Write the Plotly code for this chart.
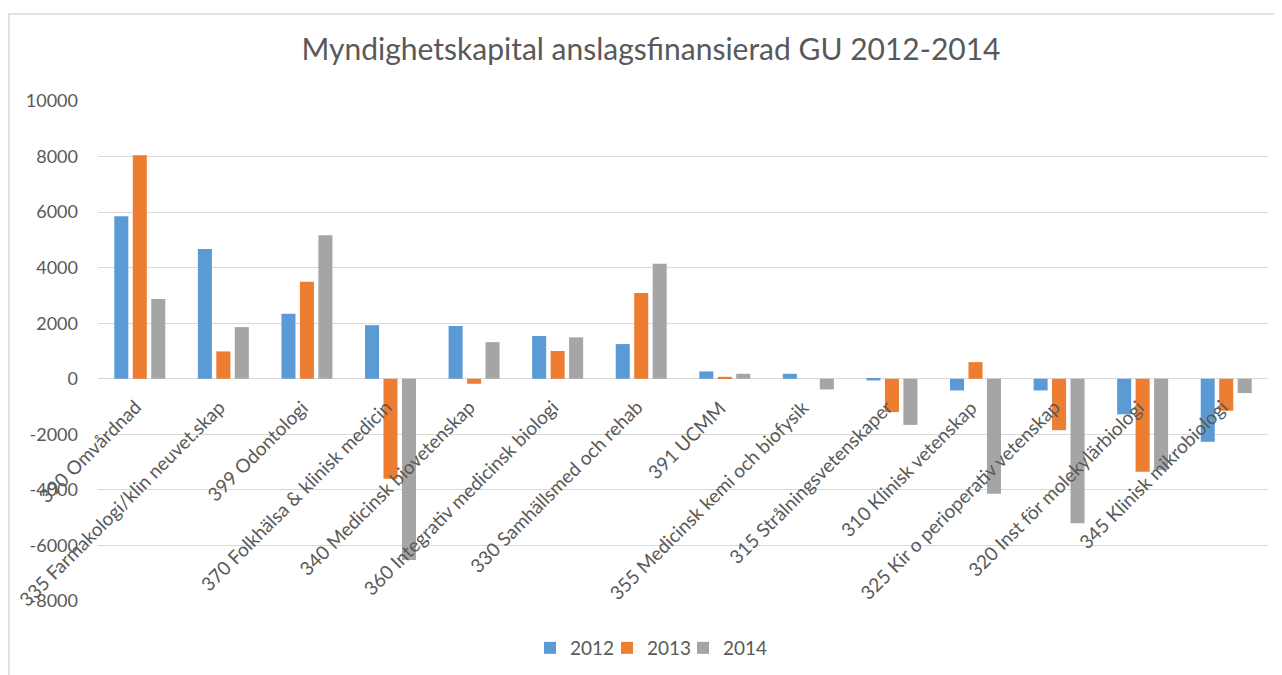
import plotly.graph_objects as go

categories = [
    "390 Omvårdnad",
    "335 Farmakologi/klin neuvet.skap",
    "399 Odontologi",
    "370 Folkhälsa & klinisk medicin",
    "340 Medicinsk biovetenskap",
    "360 Integrativ medicinsk biologi",
    "330 Samhällsmed och rehab",
    "391 UCMM",
    "355 Medicinsk kemi och biofysik",
    "315 Strålningsvetenskaper",
    "310 Klinisk vetenskap",
    "325 Kir o perioperativ vetenskap",
    "320 Inst för molekylärbiologi",
    "345 Klinisk mikrobiologi",
]
v2012 = [5850, 4670, 2340, 1930, 1900, 1540, 1250, 265, 180, -60, -420, -420, -1280, -2270]
v2013 = [8050, 985, 3490, -3600, -180, 1000, 3090, 70, 0, -1200, 600, -1850, -3350, -1150]
v2014 = [2870, 1860, 5170, -6520, 1320, 1490, 4140, 180, -385, -1660, -4140, -5200, -3280, -515]
years = ["2012", "2013", "2014"]
y_ticks = [-8000, -6000, -4000, -2000, 0, 2000, 4000, 6000, 8000, 10000]
y_ticktext = [str(v) for v in y_ticks]

colors = ["#5B9BD5", "#ED7D31", "#A5A5A5"]
FONT = "Lato"
TXT = "#595959"

# page body has an 8px margin: figure coords = screen coords - 8
OFF = 8
W, H = 1282, 675
L, T = 98 - OFF, 101 - OFF
R, B = W - (1268 - OFF), H - (601 - OFF)
pw, ph = W - L - R, H - T - B

legend_ids = ["legend2", "legend3", "legend4"]
legend_left_screen = [530, 607, 683]

fig = go.Figure()
for name, vals, c, lid in zip(years, [v2012, v2013, v2014], colors, legend_ids):
    fig.add_trace(go.Bar(x=categories, y=vals, name=name, marker_color=c,
                         marker_line_width=0, legend=lid, showlegend=True))

annotations = []
for c in categories:
    annotations.append(dict(
        x=c, y=0, xref="x", yref="y", text=c, showarrow=False,
        textangle=-45, xanchor="right", yanchor="top",
        xshift=8, yshift=-14,
        font=dict(family=FONT, size=19, color=TXT),
    ))

legends = {}
for lid, xs in zip(legend_ids, legend_left_screen):
    legends[lid] = dict(orientation="h", xref="container",
                        x=(xs - OFF) / W, xanchor="left",
                        yref="container", y=1 - (648 - OFF) / H, yanchor="middle",
                        font=dict(family=FONT, size=19, color=TXT),
                        itemwidth=30, bgcolor="rgba(0,0,0,0)", visible=True)

fig.update_layout(
    width=W, height=H,
    margin=dict(l=L, r=R, t=T, b=B, autoexpand=False),
    paper_bgcolor="white", plot_bgcolor="white",
    barmode="group", bargap=0.337, bargroupgap=0.24,
    title=dict(text="Myndighetskapital anslagsfinansierad GU 2012-2014",
               x=(651 - OFF) / W, xanchor="center",
               y=1 - (49 - OFF) / H, yanchor="middle",
               font=dict(family=FONT, size=30, color=TXT)),
    font=dict(family=FONT, color=TXT),
    xaxis=dict(range=[-0.5, len(categories) - 0.5], autorange=False,
               showticklabels=False, showgrid=False, zeroline=False,
               showline=False, ticks=""),
    yaxis=dict(range=[-8000, 10000], autorange=False,
               tickvals=y_ticks, ticktext=y_ticktext,
               showgrid=True, gridcolor="#D9D9D9", gridwidth=1,
               zeroline=True, zerolinecolor="#D9D9D9", zerolinewidth=1,
               showline=False, ticks="",
               tickfont=dict(family=FONT, size=18, color=TXT),
               ticklabelstandoff=19),
    annotations=annotations,
    shapes=[dict(type="rect", xref="paper", yref="paper",
                 x0=(9 - OFF - L) / pw, x1=(1290 - OFF - L) / pw,
                 y0=-(700 - OFF - (T + ph)) / ph,
                 y1=(T + ph - (14 - OFF)) / ph,
                 line=dict(color="#D9D9D9", width=1.5), layer="below")],
    **legends,
)

fig.write_html("out.html")
